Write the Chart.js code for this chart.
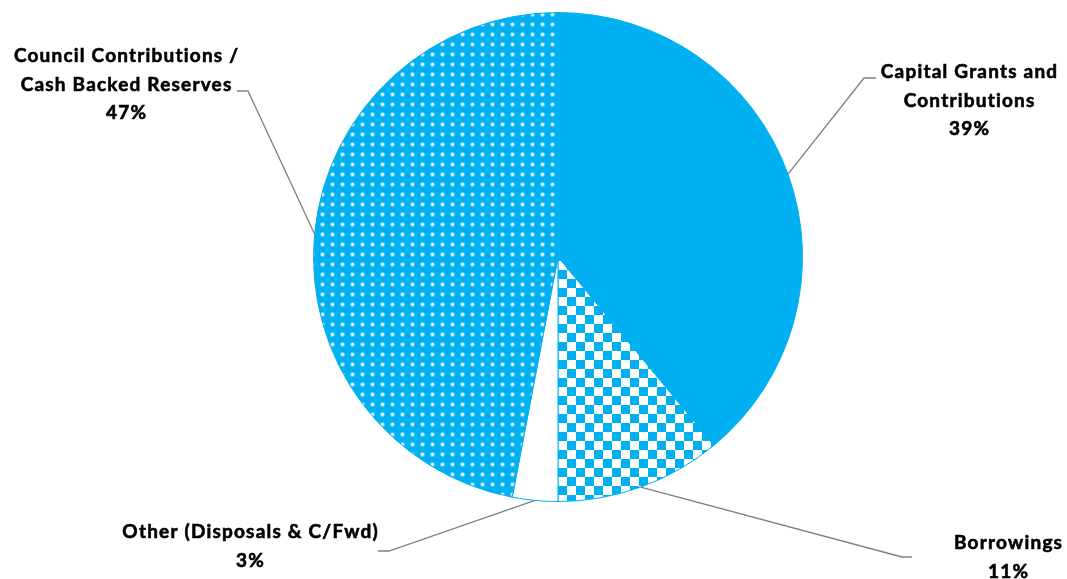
<!DOCTYPE html>
<html>
<head>
<meta charset="utf-8">
<script src="https://cdn.jsdelivr.net/npm/chart.js@4/dist/chart.umd.min.js"></script>
<style>
  body { margin: 0; background: #fff; }
  #fundingChart { display: block; }
</style>
</head>
<body>
<canvas id="fundingChart" width="1067" height="579"></canvas>
<script>
// slices go clockwise from 12 o'clock, same order as the source chart
const categories = [
    ["Capital Grants and", "Contributions"],
    ["Borrowings"],
    ["Other (Disposals & C/Fwd)"],
    ["Council Contributions /", "Cash Backed Reserves"]
];
const shares = [39, 11, 3, 47];
const shareLabels = ["39%", "11%", "3%", "47%"];

const BLUE = "#00B0F0";

// where each callout sits (text centre, elbow of the leader line, end of the short tick)
const callouts = [
    {x: 969, y: 72, elbow: [864, 78], end: [876, 78]},
    {x: 1008, y: 543, elbow: [902, 557], end: [912, 557]},
    {x: 250, y: 532, elbow: [389, 551], end: [378, 551]},
    {x: 126, y: 56, elbow: [248, 91], end: [237, 91]}
];

function makeTile(w, h, paint) {
    const c = document.createElement("canvas");
    c.width = w;
    c.height = h;
    paint(c.getContext("2d"));
    return document.createElement("canvas").getContext("2d").createPattern(c, "repeat");
}

const checkerFill = makeTile(18, 18, (g) => {
    g.fillStyle = "#fff";
    g.fillRect(0, 0, 18, 18);
    g.fillStyle = BLUE;
    g.fillRect(0, 0, 9, 9);
    g.fillRect(9, 9, 9, 9);
});

const dotFill = makeTile(10, 10, (g) => {
    g.fillStyle = BLUE;
    g.fillRect(0, 0, 10, 10);
    g.fillStyle = "rgba(255,255,255,0.35)";
    g.beginPath();
    g.arc(2.5, 4.5, 2.5, 0, Math.PI * 2);
    g.fill();
    g.fillStyle = "rgba(255,255,255,0.95)";
    g.beginPath();
    g.arc(2.5, 4.5, 1.4, 0, Math.PI * 2);
    g.fill();
});

const calloutPlugin = {
    id: "callouts",
    afterDraw(chart) {
        const ctx = chart.ctx;
        const arcs = chart.getDatasetMeta(0).data;
        ctx.save();
        arcs.forEach((arc, i) => {
            const p = arc.getProps(["x", "y", "startAngle", "endAngle", "outerRadius"], true);
            const mid = (p.startAngle + p.endAngle) / 2;
            const c = callouts[i];
            ctx.strokeStyle = "#7f7f7f";
            ctx.lineWidth = 1.3;
            ctx.beginPath();
            ctx.moveTo(p.x + Math.cos(mid) * p.outerRadius, p.y + Math.sin(mid) * p.outerRadius);
            ctx.lineTo(c.elbow[0], c.elbow[1]);
            ctx.lineTo(c.end[0], c.end[1]);
            ctx.stroke();

            // Lato bold is a touch light next to the original, so stroke it thinly too
            ctx.fillStyle = "#000";
            ctx.strokeStyle = "#000";
            ctx.lineWidth = 0.6;
            ctx.font = "bold 19px Lato";
            ctx.letterSpacing = "1.2px";
            ctx.textAlign = "center";
            ctx.textBaseline = "middle";
            const lines = categories[i].concat([shareLabels[i]]);
            lines.forEach((t, k) => {
                ctx.fillText(t, c.x + 0.6, c.y + k * 28.5);
                ctx.strokeText(t, c.x + 0.6, c.y + k * 28.5);
            });
        });
        ctx.restore();
    }
};

const chart = new Chart(document.getElementById("fundingChart"), {
    type: "pie",
    data: {
        labels: categories.map(l => l.join(" ")),
        datasets: [{
            data: shares,
            backgroundColor: [BLUE, checkerFill, "#ffffff", dotFill],
            borderColor: BLUE,
            borderWidth: 1
        }]
    },
    options: {
        responsive: false,
        animation: false,
        layout: {
            padding: {left: 313, right: 264, top: 12, bottom: 77}
        },
        plugins: {
            legend: {display: false},
            tooltip: {enabled: false}
        }
    },
    plugins: [calloutPlugin]
});
</script>
</body>
</html>
